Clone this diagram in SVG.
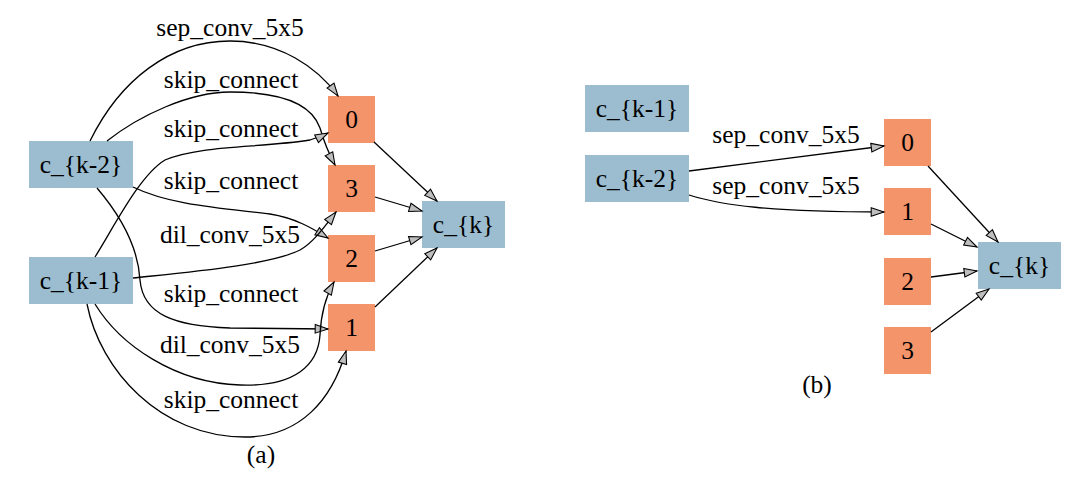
<svg xmlns="http://www.w3.org/2000/svg" width="1079" height="491" viewBox="0 0 1079 491">
<style>
text { font-family: "Liberation Serif", "Times New Roman", serif; font-size: 25.5px; fill: #000; text-anchor: middle; }
.in { fill: #9BBDCF; }
.op { fill: #F4946B; }
.e { fill: none; stroke: #000; stroke-width: 1.3; marker-end: url(#arr); }
</style>
<defs>
<marker id="arr" markerUnits="userSpaceOnUse" markerWidth="16" markerHeight="12" refX="12" refY="4" orient="auto" viewBox="-1 -1 15 10">
<path d="M0,0 L12,4 L0,8 Z" fill="#BEBEBE" stroke="#000" stroke-width="1"/>
</marker>
</defs>
<rect width="1079" height="491" fill="#fff"/>

<g id="a-ck2"><rect class="in" x="29" y="141" width="104" height="47"/><text x="81" y="173">c_{k-2}</text></g>
<g id="a-ck1"><rect class="in" x="29" y="257" width="104" height="47"/><text x="81" y="289">c_{k-1}</text></g>
<g id="a-n0"><rect class="op" x="328" y="96" width="47" height="47"/><text x="351.5" y="128">0</text></g>
<g id="a-n3"><rect class="op" x="328" y="165" width="47" height="47"/><text x="351.5" y="197">3</text></g>
<g id="a-n2"><rect class="op" x="328" y="235" width="47" height="47"/><text x="351.5" y="267">2</text></g>
<g id="a-n1"><rect class="op" x="328" y="304" width="47" height="47"/><text x="351.5" y="336">1</text></g>
<g id="a-ck"><rect class="in" x="422" y="201" width="83" height="47"/><text x="463.5" y="233">c_{k}</text></g>

<g id="b-ck1"><rect class="in" x="585" y="85" width="104" height="47"/><text x="637" y="117">c_{k-1}</text></g>
<g id="b-ck2"><rect class="in" x="585" y="155" width="104" height="47"/><text x="637" y="187">c_{k-2}</text></g>
<g id="b-n0"><rect class="op" x="884" y="119" width="47" height="47"/><text x="907.5" y="151">0</text></g>
<g id="b-n1"><rect class="op" x="884" y="188" width="47" height="47"/><text x="907.5" y="220">1</text></g>
<g id="b-n2"><rect class="op" x="884" y="258" width="47" height="47"/><text x="907.5" y="290">2</text></g>
<g id="b-n3"><rect class="op" x="884" y="327" width="47" height="47"/><text x="907.5" y="359">3</text></g>
<g id="b-ck"><rect class="in" x="978" y="242" width="83" height="47"/><text x="1019.5" y="274">c_{k}</text></g>

<g id="connectors">
<path class="e" d="M90,141 C120,80 170,41 230,41 C280,41 318,68 338,96"/>
<path class="e" d="M107,141 C140,115 190,92 230,92 C290,92 313,108 320,128 C324,142 328,152 335,165"/>
<path class="e" d="M95,257 C115,225 140,175 165,160 C200,145 260,148 310,140 C316,138 322,136 328,133"/>
<path class="e" d="M133,187 C170,205 220,208 270,214 C295,218 312,228 328,238"/>
<path class="e" d="M133,278 C190,272 270,265 300,250 C314,242 325,226 336,212"/>
<path class="e" d="M97,188 C120,215 138,245 140,280 C143,315 175,326 230,328 L328,329"/>
<path class="e" d="M95,304 C120,345 175,383 240,385 C295,387 318,365 320,335 C321,312 326,296 334,282"/>
<path class="e" d="M87,304 C100,370 160,437 245,437 C300,437 332,400 346,351"/>
<path class="e" d="M374,142 L437,201"/>
<path class="e" d="M375,197 L422,211"/>
<path class="e" d="M375,251 L422,237"/>
<path class="e" d="M375,307 L437,248"/>

<path class="e" d="M689,171 L884,146"/>
<path class="e" d="M689,195 C720,205 770,212 884,212"/>
<path class="e" d="M928,166 L998,242"/>
<path class="e" d="M931,224 L977,247"/>
<path class="e" d="M931,277 L977,271"/>
<path class="e" d="M931,332 L989,289"/>
</g>

<g id="labels">
<text x="230" y="36">sep_conv_5x5</text>
<text x="231" y="88">skip_connect</text>
<text x="231" y="137">skip_connect</text>
<text x="231" y="189">skip_connect</text>
<text x="230" y="243">dil_conv_5x5</text>
<text x="231" y="302">skip_connect</text>
<text x="230" y="353">dil_conv_5x5</text>
<text x="231" y="408">skip_connect</text>
<text x="261" y="463">(a)</text>
<text x="786" y="143">sep_conv_5x5</text>
<text x="786" y="194">sep_conv_5x5</text>
<text x="817" y="393">(b)</text>
</g>
</svg>
